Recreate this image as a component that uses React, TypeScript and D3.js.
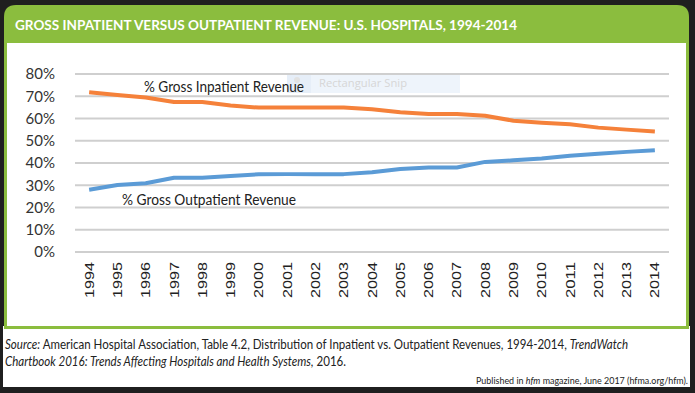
import React from "react";
import * as d3 from "d3";

const years = ["1994","1995","1996","1997","1998","1999","2000","2001","2002","2003","2004","2005","2006","2007","2008","2009","2010","2011","2012","2013","2014"];
const inpatient = [71.8,70.6,69.4,67.4,67.4,65.8,64.9,64.9,64.9,64.9,64.2,62.8,62.0,62.0,61.2,59.0,58.1,57.4,55.9,55.0,54.2];
const outpatient = [28.0,30.1,30.9,33.4,33.4,34.2,34.9,35.0,35.0,35.0,35.8,37.3,38.0,38.0,40.5,41.2,42.0,43.3,44.2,45.0,45.7];
const yTicks = [0,10,20,30,40,50,60,70,80];

const W = 695, H = 393;
const GREEN = "#8bbd3e";

export default function App() {
  const x = d3.scalePoint<string>().domain(years).range([75, 669]).padding(0.5);
  const y = d3.scaleLinear().domain([0, 80]).range([252, 74]);
  const line = d3.line<number>().x((_, i) => x(years[i]) as number).y(d => y(d));

  const panelPath = `M4,329 L4,17 Q4,5 16,5 L677,5 Q689,5 689,17 L689,329 Z`;

  return (
    <svg width={W} height={H} style={{ position: "absolute", left: 0, top: 0 }}>
      <rect x={0} y={0} width={W} height={H} fill="#1f1f1f" />
      <rect x={3} y={326} width={687} height={61} fill="#ffffff" />
      <path d={panelPath} fill={GREEN} />
      <rect x={7} y={43} width={679} height={283} fill="#ffffff" />
      <text x={15} y={29.5} fill="#ffffff" fontFamily="Lato" fontWeight={700} fontSize={13} textLength={502} lengthAdjust="spacingAndGlyphs">
        GROSS INPATIENT VERSUS OUTPATIENT REVENUE: U.S. HOSPITALS, 1994-2014
      </text>

      {/* snip artifact */}
      <rect x={287} y={73} width={173} height={20} fill="#eef4fb" />
      <rect x={287} y={73} width={24} height={20} fill="#e6eef8" />
      <circle cx={297} cy={80} r={3} fill="#e2e2e2" />
      <text x={319} y={86.5} fill="#d6d6d6" fontFamily="Open Sans" fontSize={11.5} textLength={88} lengthAdjust="spacingAndGlyphs">Rectangular Snip</text>

      {yTicks.map(t => (
        <g key={t}>
          <line x1={75} x2={669} y1={y(t)} y2={y(t)} stroke="#cfcfcf" strokeWidth={2} />
          <text x={55} y={y(t)} dy="0.36em" textAnchor="end" fill="#333" fontFamily="Lato" fontSize={15}>{t}%</text>
        </g>
      ))}

      {years.map(yr => (
        <text key={yr} transform={`translate(${x(yr)},262) rotate(-90)`} textAnchor="end" dy="0.36em" fill="#222" fontFamily="Liberation Sans" fontSize={12.5} textLength={36} lengthAdjust="spacingAndGlyphs">{yr}</text>
      ))}

      <path d={line(inpatient) || ""} fill="none" stroke="#f5813a" strokeWidth={4} strokeLinejoin="round" />
      <path d={line(outpatient) || ""} fill="none" stroke="#5b9bd6" strokeWidth={4} strokeLinejoin="round" />

      <text x={144} y={92} fill="#222" fontFamily="Lato" fontSize={15} textLength={160} lengthAdjust="spacingAndGlyphs">% Gross Inpatient Revenue</text>
      <text x={122} y={205} fill="#222" fontFamily="Lato" fontSize={15} textLength={174} lengthAdjust="spacingAndGlyphs">% Gross Outpatient Revenue</text>

      <text x={5} y={348.5} fill="#222" fontFamily="Lato" fontSize={12.5} textLength={623} lengthAdjust="spacingAndGlyphs">
        <tspan fontStyle="italic">Source:</tspan> American Hospital Association, Table 4.2, Distribution of Inpatient vs. Outpatient Revenues, 1994-2014, <tspan fontStyle="italic">TrendWatch</tspan>
      </text>
      <text x={5} y={366} fill="#222" fontFamily="Lato" fontSize={12.5} textLength={341} lengthAdjust="spacingAndGlyphs">
        <tspan fontStyle="italic">Chartbook 2016: Trends Affecting Hospitals and Health Systems,</tspan> 2016.
      </text>
      <text x={688} y={384} textAnchor="end" fill="#222" fontFamily="Lato" fontSize={10} textLength={212} lengthAdjust="spacingAndGlyphs">
        Published in <tspan fontStyle="italic">hfm</tspan> magazine, June 2017 (hfma.org/hfm).
      </text>
    </svg>
  );
}
